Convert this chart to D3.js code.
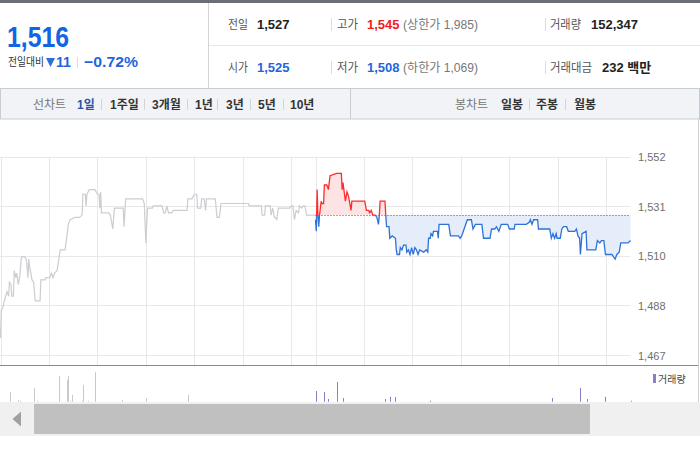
<!DOCTYPE html>
<html><head><meta charset="utf-8">
<script src="https://cdn.jsdelivr.net/npm/d3@7"></script>
<style>
html,body{margin:0;padding:0;background:#fff;}
svg{display:block;}
text{font-family:"Liberation Sans","Noto Sans CJK KR",sans-serif;}
</style></head>
<body>
<svg id="c" width="700" height="450"></svg>
<script>
// ---------- data ----------
const prevClose = 1527;
const prevTimes = [0,1,3,4,8,10,11,13,14,16,17,19,20,22,24,26,30,32,34,35,36,39,41,43,49,50,55,56,61,63,65,67,70,74,80,84,86,92,98,101,102,105,106,107,110,114,117,120,122,123,124,125,134,136,139,141,152,153,155,176,178,180,182,188,189,200,202,204,206,208,212,214,231,232,237,240,243,244,248,249,252,254,255,266,268,271,273,307,308,323,324,327,328,334,335,337,339,340,342,344,347,358,360,362,364,366,369,370,373,375,377,379,390];
const prevPrices = [1474,1486,1487,1489,1494,1492,1498,1497,1492,1492,1503,1500,1502,1497,1501,1509,1509,1508,1500,1508,1505,1499,1498,1490,1490,1499,1499,1500,1500,1502,1500,1502,1503,1512,1512,1523,1525,1526,1526,1527,1536,1536,1531,1536,1538,1538,1538,1536,1536,1530,1537,1528,1528,1527,1521,1530,1530,1522,1534,1534,1532,1515,1530,1530,1531,1531,1528,1528,1531,1528,1528,1529,1529,1534,1534,1536,1536,1530,1530,1534,1534,1529,1534,1534,1526,1526,1532,1532,1531,1531,1527,1527,1531,1531,1527,1530,1526,1526,1525,1530,1530,1530,1531,1531,1525,1529,1528,1531,1530,1531,1531,1527,1527];
const todayTimes = [390,391,392,393,394,395,397,398,400,401,404,406,408,416,419,422,423,424,427,429,431,434,435,451,453,456,457,459,461,464,466,468,469,470,476,477,478,481,482,485,489,490,491,494,495,497,499,502,503,505,507,509,511,513,515,517,519,524,527,529,530,532,533,535,536,541,542,543,555,557,567,569,571,574,578,583,585,588,596,598,606,608,612,614,617,620,628,630,636,637,651,655,656,658,660,665,666,680,682,684,686,688,689,693,695,697,701,703,711,713,715,717,718,720,725,726,737,739,742,744,747,749,757,759,761,763,766,768,777,780];
const todayPrices = [1525,1520,1538,1527,1522,1527,1533,1532,1532,1540,1540,1538,1544,1545,1545,1545,1538,1541,1533,1537,1535,1529,1533,1533,1529,1529,1528,1529,1527,1527,1526,1523,1527,1533,1533,1527,1522,1522,1517,1518,1517,1512,1510,1510,1513,1512,1514,1514,1511,1512,1510,1513,1510,1513,1512,1510,1512,1511,1512,1511,1517,1517,1519,1518,1520,1520,1517,1523,1523,1518,1518,1517,1518,1521,1525,1525,1521,1523,1523,1517,1517,1521,1521,1522,1520,1523,1523,1521,1521,1523,1523,1524,1525,1523,1525,1525,1521,1521,1517,1519,1517,1519,1517,1517,1521,1522,1522,1520,1520,1521,1518,1517,1510,1519,1520,1512,1512,1516,1515,1516,1516,1510,1510,1509,1508,1510,1511,1515,1515,1516];
const volPrevTimes = [12,22,24,41,45,72,82,83,86,89,101,102,108,117,151,180,232];
const volPrevValues = [9700,1700,1000,13700,1000,25700,21700,25700,1000,7000,1000,16700,1000,29700,1700,3700,7000];
const volTodayTimes = [391,401,406,417,424,476,482,489,532,683,718,726,749,780];
const volTodayValues = [10700,9700,2700,19700,3700,2700,5000,4700,1000,3700,13700,2700,5000,1000];
const priceTicks = [1466.6,1488.0,1509.5,1530.9,1552.3];
const gridTimes = [0,60,120,180,240,300,360,390,450,510,570,630,690,750];
const lineMenu = ["1일","1주일","3개월","1년","3년","5년","10년"];
const candleMenu = ["일봉","주봉","월봉"];

// ---------- layout ----------
const svg = d3.select("#c");
const X0=0.5, X1=630.5, YT=156.5, YB=355, AXY=365.5, VB=401.7;
const x = d3.scaleLinear().domain([0,780]).range([X0,X1]);
const y = d3.scaleLinear().domain([1466.6,1552.3]).range([YB,YT]);
const v = d3.scaleLinear().domain([0,30000]).range([VB,VB-30]);

// header
svg.append("rect").attr("x",0).attr("y",0).attr("width",700).attr("height",3).attr("fill","#6b6e75");
svg.append("line").attr("x1",208.5).attr("x2",208.5).attr("y1",3).attr("y2",88).attr("stroke","#d4d4d4");
svg.append("line").attr("x1",209).attr("x2",700).attr("y1",45.5).attr("y2",45.5).attr("stroke","#e8e8e8");

svg.append("text").attr("x",7).attr("y",46.5).attr("font-size",30).attr("font-weight","bold")
  .attr("fill","#1265e0").attr("textLength",62).attr("lengthAdjust","spacingAndGlyphs").text("1,516");
svg.append("text").attr("x",8).attr("y",66).attr("font-size",11).attr("fill","#333")
  .attr("textLength",36).attr("lengthAdjust","spacingAndGlyphs").text("전일대비");
svg.append("path").attr("d","M46,58 L55,58 L50.5,67 Z").attr("fill","#2f6fd6");
svg.append("text").attr("x",56).attr("y",67).attr("font-size",15).attr("font-weight","bold").attr("fill","#1f66dc")
  .attr("textLength",15).attr("lengthAdjust","spacingAndGlyphs").text("11");
svg.append("line").attr("x1",77.5).attr("x2",77.5).attr("y1",57).attr("y2",68).attr("stroke","#ddd");
svg.append("text").attr("x",84).attr("y",67).attr("font-size",15).attr("font-weight","bold").attr("fill","#1f66dc")
  .attr("textLength",54).attr("lengthAdjust","spacingAndGlyphs").text("−0.72%");

const row1=29, row2=72;
[[228,row1,"전일",20],[337,row1,"고가",21],[550,row1,"거래량",31],[228,row2,"시가",20],[337,row2,"저가",21],[550,row2,"거래대금",42]]
 .forEach(d=>svg.append("text").attr("x",d[0]).attr("y",d[1]).attr("font-size",12.5).attr("fill","#555")
   .attr("textLength",d[3]).attr("lengthAdjust","spacingAndGlyphs").text(d[2]));
[[257,row1,"1,527","#222"],[367,row1,"1,545","#f01c1c"],[591,row1,"152,347","#222"],
 [257,row2,"1,525","#1f66dc"],[367,row2,"1,508","#1f66dc"],[602,row2,"232 백만","#222"]]
 .forEach(d=>svg.append("text").attr("x",d[0]).attr("y",d[1]).attr("font-size",13).attr("font-weight","bold").attr("fill",d[3]).text(d[2]));
[[403,row1,"(상한가 1,985)"],[403,row2,"(하한가 1,069)"]]
 .forEach(d=>svg.append("text").attr("x",d[0]).attr("y",d[1]).attr("font-size",12).attr("fill","#777")
   .attr("textLength",75).attr("lengthAdjust","spacingAndGlyphs").text(d[2]));
[331.5,545.5].forEach(sx=>{
  [[18,31],[61,74]].forEach(r=>svg.append("line").attr("x1",sx).attr("x2",sx).attr("y1",r[0]).attr("y2",r[1]).attr("stroke","#ddd"));
});

// menu bar
svg.append("rect").attr("x",0.5).attr("y",88.5).attr("width",699).attr("height",30.5).attr("fill","#f1f3f7").attr("stroke","#c9ccd3");
svg.append("line").attr("x1",350.5).attr("x2",350.5).attr("y1",89).attr("y2",119).attr("stroke","#c9ccd3");
const my=109;
svg.append("text").attr("x",33).attr("y",my).attr("font-size",12).attr("fill","#777").text("선차트");
const lmX=[77,110,152,195,226,258,290];
lineMenu.forEach((t,i)=>{
  svg.append("text").attr("x",lmX[i]).attr("y",my).attr("font-size",12).attr("font-weight","bold")
   .attr("fill",i===0?"#2b52a8":"#333").text(t);
  if(i<lineMenu.length-1){
    const sx=[101,144,187,217,250,283][i];
    svg.append("line").attr("x1",sx+0.5).attr("x2",sx+0.5).attr("y1",99).attr("y2",110).attr("stroke","#d0d3da");
  }
});
svg.append("text").attr("x",455).attr("y",my).attr("font-size",12).attr("fill","#777").text("봉차트");
const cmX=[501,536,574];
candleMenu.forEach((t,i)=>{
  svg.append("text").attr("x",cmX[i]).attr("y",my).attr("font-size",12).attr("font-weight","bold").attr("fill","#333").text(t);
  if(i<candleMenu.length-1){
    const sx=[529,565][i];
    svg.append("line").attr("x1",sx+0.5).attr("x2",sx+0.5).attr("y1",99).attr("y2",110).attr("stroke","#d0d3da");
  }
});

// grid
const g = svg.append("g");
g.selectAll(".hg").data(priceTicks).enter().append("line")
  .attr("x1",0).attr("x2",X1).attr("y1",d=>Math.round(y(d))+0.5).attr("y2",d=>Math.round(y(d))+0.5)
  .attr("stroke","#e8e8e8");
g.selectAll(".vg").data(gridTimes).enter().append("line")
  .attr("x1",d=>Math.round(x(d))+0.5).attr("x2",d=>Math.round(x(d))+0.5)
  .attr("y1",YT).attr("y2",AXY).attr("stroke","#e8e8e8");

// y axis labels (right)
const yAxis = d3.axisRight(y).tickValues(priceTicks).tickSize(0).tickPadding(0)
  .tickFormat(d=>d3.format(",")(Math.round(d)));
const ya = svg.append("g").attr("transform",`translate(638,0.5)`).call(yAxis);
ya.select(".domain").remove();
ya.selectAll("text").attr("font-size",11).attr("fill","#6f6f6f").attr("font-family","'Liberation Sans',sans-serif");

// axis line
svg.append("line").attr("x1",0).attr("x2",698).attr("y1",AXY).attr("y2",AXY).attr("stroke","#8a8a8a");
svg.append("line").attr("x1",698.5).attr("x2",698.5).attr("y1",119).attr("y2",402).attr("stroke","#cfcfcf");

// price lines
const prev = prevTimes.map((t,i)=>[t,prevPrices[i]]);
const today = todayTimes.map((t,i)=>[t,todayPrices[i]]);
const yBase = y(prevClose);

const defs = svg.append("defs");
defs.append("clipPath").attr("id","above").append("rect").attr("x",0).attr("y",0).attr("width",700).attr("height",yBase);
defs.append("clipPath").attr("id","below").append("rect").attr("x",0).attr("y",yBase).attr("width",700).attr("height",450-yBase);

const line = d3.line().x(d=>x(d[0])).y(d=>y(d[1]));
const area = d3.area().x(d=>x(d[0])).y0(yBase).y1(d=>y(d[1]));

svg.append("path").datum(prev).attr("d",line).attr("fill","none").attr("stroke","#cbcdd1").attr("stroke-width",1.2);

svg.append("path").datum(today).attr("d",area).attr("fill","#fde3e4").attr("clip-path","url(#above)");
svg.append("path").datum(today).attr("d",area).attr("fill","#e4edf9").attr("clip-path","url(#below)");
svg.append("line").attr("x1",x(390)).attr("x2",x(780)).attr("y1",Math.round(yBase)+0.5).attr("y2",Math.round(yBase)+0.5)
  .attr("stroke","#555").attr("stroke-dasharray","1,2");
svg.append("path").datum(today).attr("d",line).attr("fill","none").attr("stroke","#ff2b2b").attr("stroke-width",1.3).attr("clip-path","url(#above)");
svg.append("path").datum(today).attr("d",line).attr("fill","none").attr("stroke","#2e72d6").attr("stroke-width",1.3).attr("clip-path","url(#below)");

// volume
const vp = volPrevTimes.map((t,i)=>[t,volPrevValues[i]]);
const vt = volTodayTimes.map((t,i)=>[t,volTodayValues[i]]);
svg.selectAll(".vp").data(vp).enter().append("rect")
  .attr("x",d=>Math.round(x(d[0]))).attr("width",1).attr("y",d=>v(d[1])).attr("height",d=>VB-v(d[1])).attr("fill","#c9c9c9");
svg.selectAll(".vt").data(vt).enter().append("rect")
  .attr("x",d=>Math.round(x(d[0]))).attr("width",1).attr("y",d=>v(d[1])).attr("height",d=>VB-v(d[1])).attr("fill","#8c7dc8");
svg.append("rect").attr("x",653).attr("y",374).attr("width",3).attr("height",9).attr("fill","#8c7dc8");
svg.append("text").attr("x",658).attr("y",382.5).attr("font-size",10).attr("fill","#444").text("거래량");

// scrollbar
svg.append("rect").attr("x",0).attr("y",402).attr("width",700).attr("height",34).attr("fill","#f0f0f0");
svg.append("rect").attr("x",34).attr("y",404).attr("width",556).attr("height",30).attr("fill","#c0c0c0");
svg.append("path").attr("d","M12.5,419 L21,411.5 L21,426.5 Z").attr("fill","#a0a0a0");
</script>
</body></html>
